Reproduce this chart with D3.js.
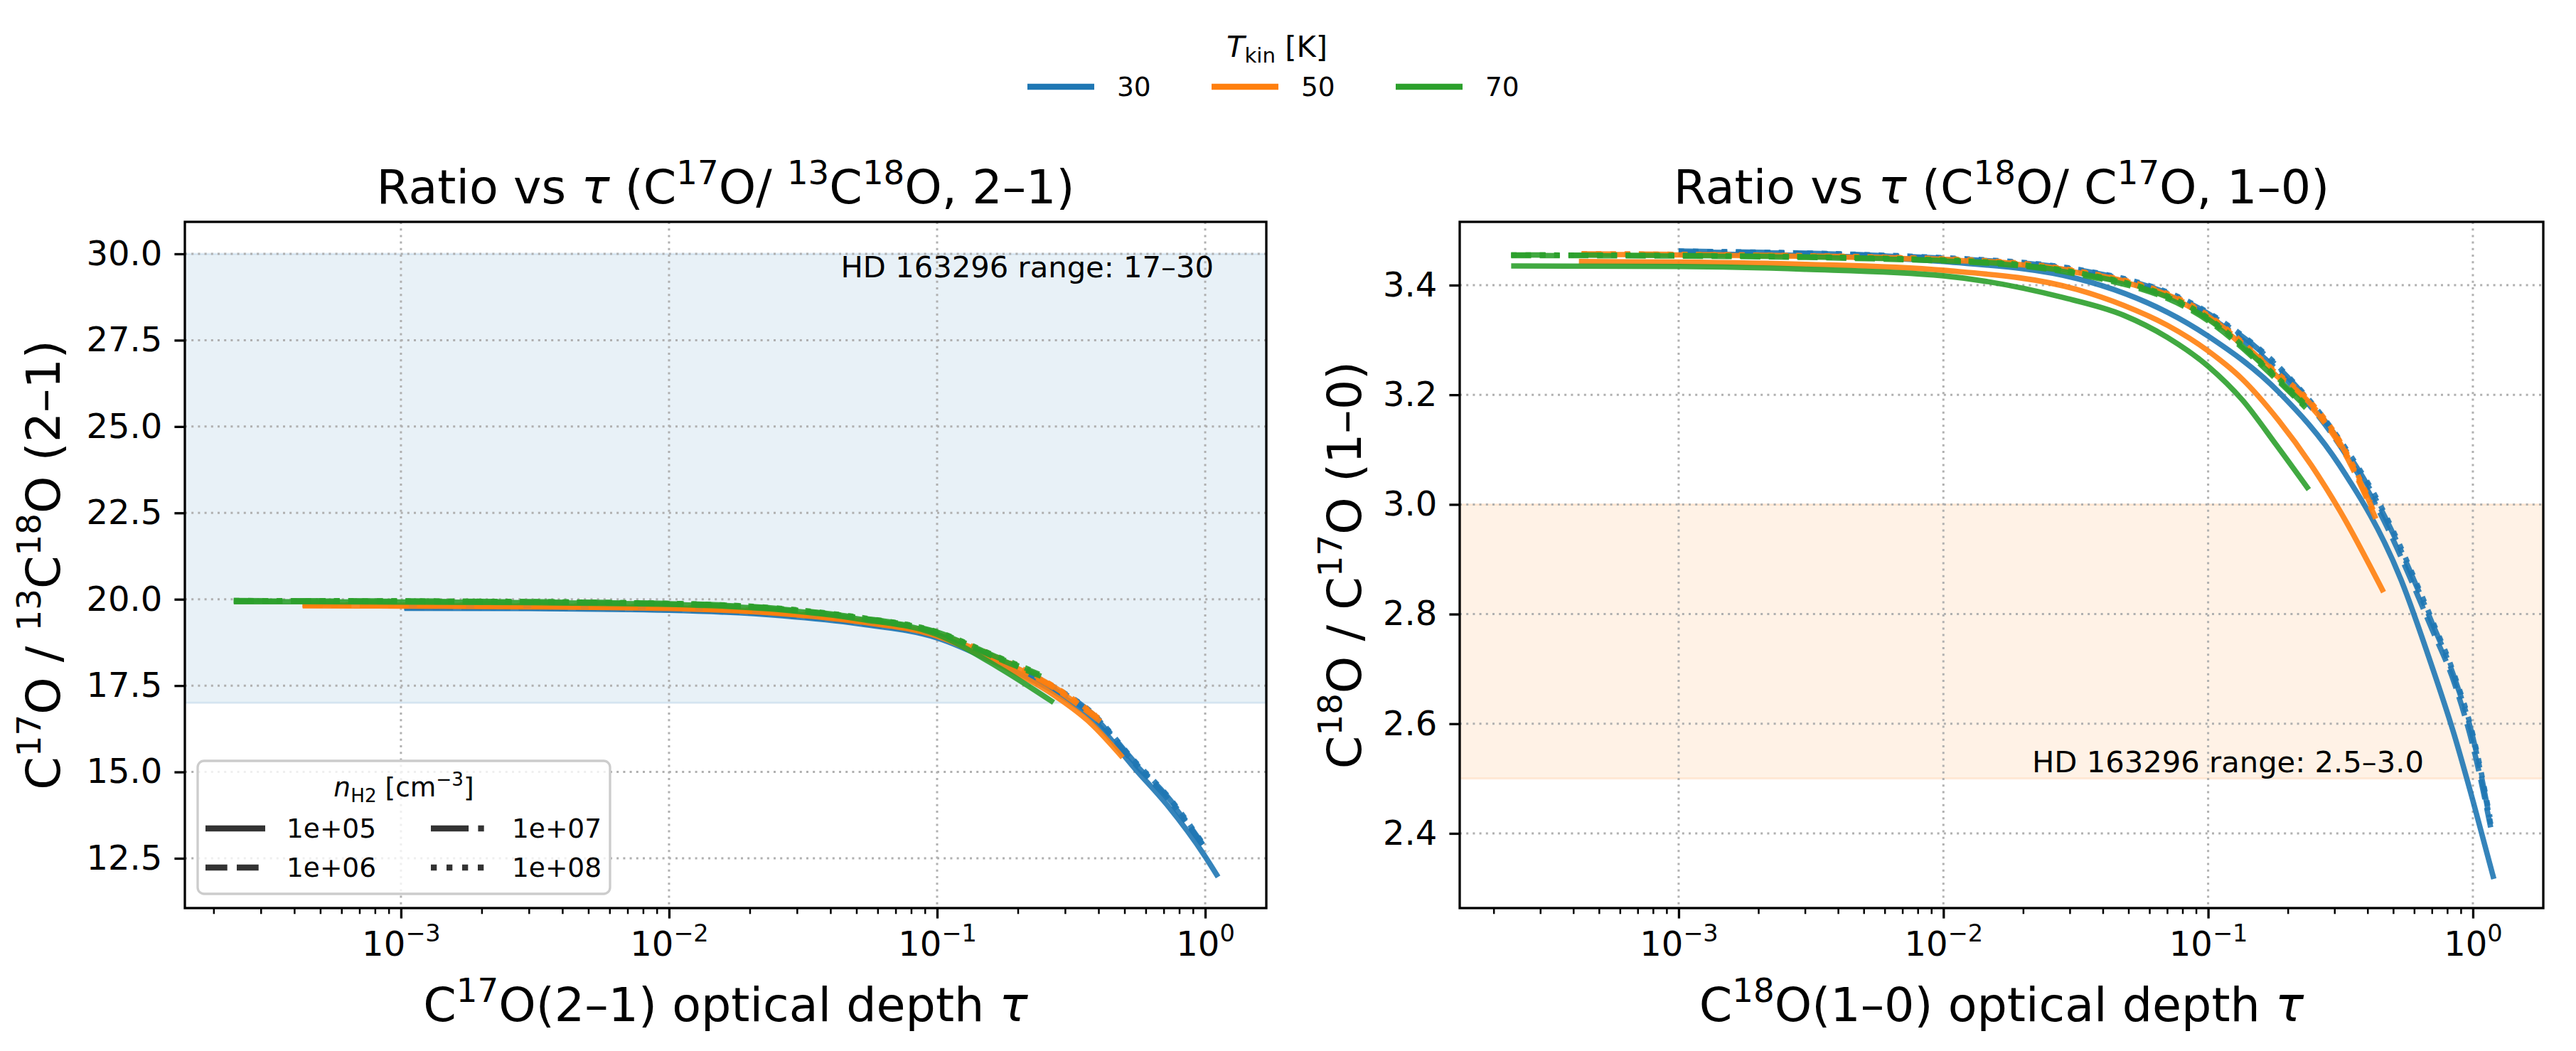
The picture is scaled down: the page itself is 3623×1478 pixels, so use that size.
<!DOCTYPE html>
<html lang="en">
<head>
<meta charset="utf-8">
<title>Ratio vs optical depth</title>
<script src="https://cdn.jsdelivr.net/npm/d3@7"></script>
<style>
  body { margin: 0; background: #fff; }
  text { font-family: "DejaVu Sans", sans-serif; white-space: pre; }
</style>
</head>
<body>
<script>

// ---- data ----
var temps = [30, 50, 70];
var densities = ["1e+05", "1e+06", "1e+07", "1e+08"];

var xTickValues = [1e-3, 1e-2, 1e-1, 1];
var xTickExponents = ["\u22123", "\u22122", "\u22121", "0"];
var leftYTicks = [12.5, 15.0, 17.5, 20.0, 22.5, 25.0, 27.5, 30.0];
var rightYTicks = [2.4, 2.6, 2.8, 3.0, 3.2, 3.4];

var leftRange = [17, 30];
var rightRange = [2.5, 3.0];

// C17O / 13C18O (2-1): [tau, ratio]
var c17_T30_n5 = [[1.03e-3,19.74],[3e-3,19.73],[1e-2,19.68],[2.65e-2,19.52],[5.1e-2,19.29],[0.1,18.88],[0.17,18.12],[0.27,17.35],[0.37,16.62],[0.555,15.04],[0.72,14.05],[1.0,12.55],[1.117,11.96]];
var c17_T30_n6 = [[1.03e-3,19.76],[3e-3,19.75],[1e-2,19.70],[2.65e-2,19.55],[5.1e-2,19.32],[0.1,18.92],[0.17,18.20],[0.27,17.42],[0.37,16.72],[0.555,15.18],[0.72,14.25],[1.02,12.68]];
var c17_T30_n7 = [[1.03e-3,19.77],[1e-2,19.71],[2.65e-2,19.56],[5.1e-2,19.34],[0.1,18.94],[0.17,18.24],[0.27,17.46],[0.37,16.76],[0.555,15.22],[0.72,14.30],[0.98,12.90]];
var c17_T30_n8 = [[1.03e-3,19.77],[1e-2,19.72],[2.65e-2,19.57],[5.1e-2,19.35],[0.1,18.95],[0.17,18.26],[0.27,17.48],[0.37,16.78],[0.555,15.25],[0.72,14.33],[0.97,12.98]];

var c17_T50_n5 = [[4.3e-4,19.81],[1e-3,19.80],[3e-3,19.78],[1e-2,19.73],[2.65e-2,19.58],[5.1e-2,19.35],[0.1,18.93],[0.17,18.12],[0.27,17.25],[0.373,16.42],[0.492,15.42]];
var c17_T50_n6 = [[4.3e-4,19.83],[1e-3,19.82],[1e-2,19.75],[2.65e-2,19.60],[5.1e-2,19.38],[0.1,18.97],[0.17,18.25],[0.27,17.45],[0.415,16.41]];
var c17_T50_n7 = [[4.3e-4,19.84],[1e-3,19.83],[1e-2,19.76],[2.65e-2,19.61],[5.1e-2,19.39],[0.1,18.98],[0.17,18.27],[0.27,17.48],[0.40,16.56]];
var c17_T50_n8 = [[4.3e-4,19.84],[1e-3,19.83],[1e-2,19.77],[2.65e-2,19.62],[5.1e-2,19.40],[0.1,19.00],[0.17,18.30],[0.27,17.50],[0.39,16.64]];

var c17_T70_n5 = [[2.38e-4,19.93],[1e-3,19.92],[3e-3,19.90],[1e-2,19.85],[2.65e-2,19.69],[5.1e-2,19.43],[0.1,18.98],[0.17,18.02],[0.272,17.01]];
var c17_T70_n6 = [[2.38e-4,19.95],[1e-3,19.94],[1e-2,19.87],[2.65e-2,19.71],[5.1e-2,19.46],[0.1,19.03],[0.17,18.27],[0.244,17.77]];
var c17_T70_n7 = [[2.38e-4,19.96],[1e-3,19.95],[1e-2,19.88],[2.65e-2,19.72],[5.1e-2,19.47],[0.1,19.05],[0.17,18.30],[0.24,17.83]];
var c17_T70_n8 = [[2.38e-4,19.96],[1e-3,19.95],[1e-2,19.88],[2.65e-2,19.73],[5.1e-2,19.48],[0.1,19.06],[0.17,18.32],[0.235,17.88]];

// C18O / C17O (1-0): [tau, ratio]
var c18_T30_n5 = [[1.0e-3,3.457],[3e-3,3.454],[1e-2,3.443],[3.2e-2,3.412],[0.1,3.307],[0.184,3.206],[0.314,3.071],[0.536,2.862],[0.70,2.705],[0.85,2.58],[1.0,2.46],[1.2,2.317]];
var c18_T30_n6 = [[1.0e-3,3.460],[3e-3,3.458],[1e-2,3.447],[3.2e-2,3.424],[0.1,3.343],[0.184,3.243],[0.314,3.108],[0.44,2.99],[0.70,2.773],[0.85,2.675],[1.0,2.56],[1.18,2.40]];
var c18_T30_n7 = [[1.0e-3,3.462],[1e-2,3.449],[3.2e-2,3.428],[0.1,3.348],[0.184,3.250],[0.314,3.115],[0.44,3.00],[0.70,2.785],[0.85,2.685],[1.0,2.575],[1.17,2.415]];
var c18_T30_n8 = [[1.0e-3,3.462],[1e-2,3.450],[3.2e-2,3.429],[0.1,3.350],[0.184,3.252],[0.314,3.118],[0.44,3.005],[0.70,2.79],[0.85,2.69],[1.0,2.58],[1.16,2.43]];

var c18_T50_n5 = [[4.2e-4,3.443],[1e-3,3.442],[3e-3,3.438],[1e-2,3.427],[3.2e-2,3.392],[4.8e-2,3.363],[0.07,3.327],[0.1,3.280],[0.135,3.228],[0.184,3.154],[0.245,3.072],[0.314,2.989],[0.46,2.84]];
var c18_T50_n6 = [[4.3e-4,3.456],[1e-3,3.455],[1e-2,3.446],[3.2e-2,3.423],[0.1,3.340],[0.184,3.232],[0.24,3.183],[0.314,3.109],[0.43,2.974]];
var c18_T50_n7 = [[4.3e-4,3.457],[1e-3,3.456],[1e-2,3.447],[3.2e-2,3.425],[0.1,3.343],[0.184,3.236],[0.24,3.187],[0.314,3.113],[0.42,2.99]];
var c18_T50_n8 = [[4.3e-4,3.457],[1e-3,3.456],[1e-2,3.448],[3.2e-2,3.426],[0.1,3.345],[0.184,3.238],[0.24,3.190],[0.314,3.116],[0.41,3.005]];

var c18_T70_n5 = [[2.33e-4,3.435],[1e-3,3.434],[3e-3,3.429],[1e-2,3.417],[2.8e-2,3.378],[4.8e-2,3.345],[0.07,3.305],[0.1,3.252],[0.135,3.190],[0.18,3.110],[0.24,3.027]];
var c18_T70_n6 = [[2.33e-4,3.454],[1e-3,3.453],[1e-2,3.444],[3.2e-2,3.420],[0.1,3.335],[0.184,3.225],[0.234,3.176]];
var c18_T70_n7 = [[2.33e-4,3.455],[1e-3,3.454],[1e-2,3.445],[3.2e-2,3.422],[0.1,3.338],[0.184,3.228],[0.232,3.180]];
var c18_T70_n8 = [[2.33e-4,3.455],[1e-3,3.454],[1e-2,3.446],[3.2e-2,3.423],[0.1,3.340],[0.184,3.230],[0.23,3.185]];

// ---- styles ----
var tempColor = {30: "#1f77b4", 50: "#ff7f0e", 70: "#2ca02c"};
var LW = 7.6;
var dashPattern = {
  "1e+05": null,
  "1e+06": [3.7, 1.6],
  "1e+07": [6.4, 1.6, 1, 1.6],
  "1e+08": [1, 1.65]
};
function dash(n, lw) {
  var p = dashPattern[n];
  return p ? p.map(function(v) { return (v * lw).toFixed(1); }).join(" ") : null;
}

var W = 3623, H = 1478;
var TICK_FS = 48, LABEL_FS = 66.7, NOTE_FS = 41.7, LEG_FS = 37.5;

var svg = d3.select("body").append("svg")
  .attr("width", W)
  .attr("height", H);

// text with super/subscripts: parts = [[string, kind], ...]
function rich(sel, parts, size) {
  var shift = 0;
  parts.forEach(function(p) {
    var s = p[0], k = p[1] || "n";
    var t = sel.append("tspan").text(s);
    var target = 0;
    if (k === "sup") { t.attr("font-size", size * 0.7); target = -0.4 * size; }
    if (k === "sub") { t.attr("font-size", size * 0.7); target = 0.2 * size; }
    if (k === "it") t.attr("font-style", "italic");
    if (target !== shift) { t.attr("dy", target - shift); shift = target; }
  });
  return sel;
}

function buildSeries(prefix) {
  var tables = {
    c17: {30: [c17_T30_n5, c17_T30_n6, c17_T30_n7, c17_T30_n8],
          50: [c17_T50_n5, c17_T50_n6, c17_T50_n7, c17_T50_n8],
          70: [c17_T70_n5, c17_T70_n6, c17_T70_n7, c17_T70_n8]},
    c18: {30: [c18_T30_n5, c18_T30_n6, c18_T30_n7, c18_T30_n8],
          50: [c18_T50_n5, c18_T50_n6, c18_T50_n7, c18_T50_n8],
          70: [c18_T70_n5, c18_T70_n6, c18_T70_n7, c18_T70_n8]}
  };
  var out = [];
  temps.forEach(function(T) {
    densities.forEach(function(n, i) {
      out.push({T: T, n: n, pts: tables[prefix][T][i]});
    });
  });
  return out;
}

function drawPanel(p) {
  var x = d3.scaleLog().domain(p.xDomain).range([p.left, p.right]);
  var y = d3.scaleLinear().domain(p.yDomain).range([p.bottom, p.top]);
  var g = svg.append("g");

  g.append("clipPath").attr("id", p.id + "-clip")
    .append("rect")
    .attr("x", p.left).attr("y", p.top)
    .attr("width", p.right - p.left).attr("height", p.bottom - p.top);

  // observed range band
  g.append("rect")
    .attr("x", p.left)
    .attr("width", p.right - p.left)
    .attr("y", y(p.band[1]))
    .attr("height", y(p.band[0]) - y(p.band[1]))
    .attr("fill", p.bandColor).attr("fill-opacity", 0.1)
    .attr("stroke", p.bandColor).attr("stroke-opacity", 0.12).attr("stroke-width", 3)
    .attr("clip-path", "url(#" + p.id + "-clip)");

  // grid
  var grid = g.append("g")
    .attr("stroke", "#b0b0b0")
    .attr("stroke-width", 3)
    .attr("stroke-dasharray", "3 6.2");
  grid.selectAll(".gx").data(xTickValues).join("line")
    .attr("x1", function(d) { return x(d); }).attr("x2", function(d) { return x(d); })
    .attr("y1", p.top).attr("y2", p.bottom);
  grid.selectAll(".gy").data(p.yTicks).join("line")
    .attr("y1", function(d) { return y(d); }).attr("y2", function(d) { return y(d); })
    .attr("x1", p.left).attr("x2", p.right);

  // curves
  var line = d3.line()
    .x(function(d) { return x(d[0]); })
    .y(function(d) { return y(d[1]); })
    .curve(d3.curveMonotoneX);

  g.append("g").attr("clip-path", "url(#" + p.id + "-clip)")
    .selectAll("path").data(p.series).join("path")
    .attr("d", function(d) { return line(d.pts); })
    .attr("fill", "none")
    .attr("stroke", function(d) { return tempColor[d.T]; })
    .attr("stroke-opacity", 0.9)
    .attr("stroke-width", LW)
    .attr("stroke-dasharray", function(d) { return dash(d.n, LW); });

  // note
  g.append("text")
    .attr("x", p.noteX).attr("y", p.noteY)
    .attr("text-anchor", "end")
    .attr("font-size", NOTE_FS)
    .text(p.note);

  // x axis: minor ticks, then major with mathtext-like labels
  var minors = x.ticks().filter(function(v) {
    var l = Math.log10(v);
    return Math.abs(l - Math.round(l)) > 1e-6;
  });
  var xMinor = g.append("g")
    .attr("transform", "translate(0," + p.bottom + ")")
    .call(d3.axisBottom(x).tickValues(minors).tickSize(8.3).tickSizeOuter(0).tickFormat(""));
  xMinor.select(".domain").remove();
  xMinor.selectAll("line").attr("stroke-width", 2.5);

  var xAxis = g.append("g")
    .attr("transform", "translate(0," + p.bottom + ")")
    .call(d3.axisBottom(x).tickValues(xTickValues).tickSize(14.6).tickSizeOuter(0)
      .tickPadding(18).tickFormat(function() { return ""; }));
  xAxis.select(".domain").remove();
  xAxis.selectAll("line").attr("stroke-width", 3.3);
  xAxis.selectAll("text")
    .attr("font-size", TICK_FS)
    .attr("font-family", "DejaVu Sans")
    .each(function(d, i) {
      rich(d3.select(this), [["10"], [xTickExponents[i], "sup"]], TICK_FS);
    });

  var yAxis = g.append("g")
    .attr("transform", "translate(" + p.left + ",0)")
    .call(d3.axisLeft(y).tickValues(p.yTicks).tickSize(14.6).tickSizeOuter(0)
      .tickPadding(17).tickFormat(d3.format(".1f")));
  yAxis.select(".domain").remove();
  yAxis.selectAll("line").attr("stroke-width", 3.3);
  yAxis.selectAll("text").attr("font-size", TICK_FS).attr("font-family", "DejaVu Sans");

  // frame
  g.append("rect")
    .attr("x", p.left).attr("y", p.top)
    .attr("width", p.right - p.left).attr("height", p.bottom - p.top)
    .attr("fill", "none").attr("stroke", "#000").attr("stroke-width", 3.3);

  // title and labels
  rich(g.append("text")
    .attr("x", (p.left + p.right) / 2).attr("y", 286)
    .attr("text-anchor", "middle").attr("font-size", LABEL_FS), p.title, LABEL_FS);

  rich(g.append("text")
    .attr("x", (p.left + p.right) / 2).attr("y", 1436)
    .attr("text-anchor", "middle").attr("font-size", LABEL_FS), p.xlabel, LABEL_FS);

  rich(g.append("text")
    .attr("transform", "translate(" + p.ylabelX + "," + ((p.top + p.bottom) / 2) + ") rotate(-90)")
    .attr("text-anchor", "middle").attr("font-size", LABEL_FS), p.ylabel, LABEL_FS);

  return {x: x, y: y, g: g};
}

drawPanel({
  id: "left",
  left: 260, right: 1781, top: 312, bottom: 1277,
  xDomain: [Math.pow(10, -3.806), Math.pow(10, 0.228)],
  yDomain: [11.059, 30.926],
  yTicks: leftYTicks,
  band: leftRange, bandColor: "#1f77b4",
  series: buildSeries("c17"),
  note: "HD 163296 range: 17\u201330", noteX: 1707, noteY: 390,
  title: [["Ratio vs "], ["\u03c4", "it"], [" (C"], ["17", "sup"], ["O/ "], ["13", "sup"], ["C"], ["18", "sup"], ["O, 2\u20131)"]],
  xlabel: [["C"], ["17", "sup"], ["O(2\u20131) optical depth "], ["\u03c4", "it"]],
  ylabel: [["C"], ["17", "sup"], ["O / "], ["13", "sup"], ["C"], ["18", "sup"], ["O (2\u20131)"]],
  ylabelX: 84
});

drawPanel({
  id: "right",
  left: 2053, right: 3577, top: 312, bottom: 1277,
  xDomain: [Math.pow(10, -3.827), Math.pow(10, 0.266)],
  yDomain: [2.2638, 3.5154],
  yTicks: rightYTicks,
  band: rightRange, bandColor: "#ff7f0e",
  series: buildSeries("c18"),
  note: "HD 163296 range: 2.5\u20133.0", noteX: 3409, noteY: 1086,
  title: [["Ratio vs "], ["\u03c4", "it"], [" (C"], ["18", "sup"], ["O/ C"], ["17", "sup"], ["O, 1\u20130)"]],
  xlabel: [["C"], ["18", "sup"], ["O(1\u20130) optical depth "], ["\u03c4", "it"]],
  ylabel: [["C"], ["18", "sup"], ["O / C"], ["17", "sup"], ["O (1\u20130)"]],
  ylabelX: 1914
});

// ---- temperature legend (top, centred) ----
var topLeg = svg.append("g");
rich(topLeg.append("text")
  .attr("x", 1796).attr("y", 80)
  .attr("text-anchor", "middle").attr("font-size", NOTE_FS),
  [["T", "it"], ["kin", "sub"], [" [K]"]], NOTE_FS);

var tItems = topLeg.selectAll(".titem").data(temps).join("g")
  .attr("transform", function(d, i) { return "translate(" + (1445 + i * 259) + ",122)"; });
tItems.append("line")
  .attr("x1", 0).attr("x2", 94)
  .attr("stroke", function(d) { return tempColor[d]; })
  .attr("stroke-width", 8.3);
tItems.append("text")
  .attr("x", 126).attr("y", 13)
  .attr("font-size", LEG_FS)
  .text(function(d) { return d; });

// ---- density legend (lower left of left panel) ----
var dLeg = svg.append("g");
dLeg.append("rect")
  .attr("x", 278).attr("y", 1070)
  .attr("width", 580).attr("height", 187)
  .attr("rx", 9)
  .attr("fill", "#fff").attr("fill-opacity", 0.8)
  .attr("stroke", "#cccccc").attr("stroke-width", 3.3);
rich(dLeg.append("text")
  .attr("x", 568).attr("y", 1120)
  .attr("text-anchor", "middle").attr("font-size", LEG_FS),
  [["n", "it"], ["H2", "sub"], [" [cm"], ["\u22123", "sup"], ["]"]], LEG_FS);

var dItems = dLeg.selectAll(".ditem").data(densities).join("g")
  .attr("transform", function(d, i) {
    var col = Math.floor(i / 2), row = i % 2;
    return "translate(" + (289 + col * 317) + "," + (1165 + row * 55) + ")";
  });
dItems.append("line")
  .attr("x1", 0).attr("x2", 84)
  .attr("stroke", "#333")
  .attr("stroke-width", 8.3)
  .attr("stroke-dasharray", function(d) { return dash(d, 8.3); });
dItems.append("text")
  .attr("x", 114).attr("y", 13)
  .attr("font-size", LEG_FS)
  .text(function(d) { return d; });

</script>
</body>
</html>
